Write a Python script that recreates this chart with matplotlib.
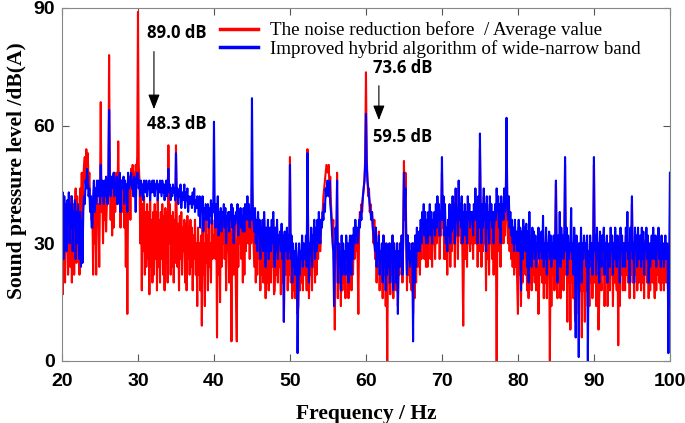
import matplotlib
matplotlib.use("Agg")
import matplotlib.pyplot as plt
import numpy as np

# frequency grid, 0.1 Hz steps from 20 to 100 Hz
freq = np.round(np.arange(20, 100.0001, 0.1), 1)

# noise reduction before / average value (red), one row per Hz
before = [
    38, 17, 30, 36, 20, 33, 28, 40, 22, 35,   # 20
    30, 24, 42, 20, 36, 40, 22, 38, 44, 25,
    42, 28, 38, 22, 44, 36, 48, 30, 46, 50,
    52, 46, 54, 50, 53, 44, 48, 40, 42, 36,
    38, 22, 42, 30, 40, 22, 44, 35, 40, 24,
    42, 66, 38, 44, 30, 42, 36, 46, 33, 40,   # 25
    40, 44, 78, 45, 36, 44, 32, 46, 34, 48,
    38, 44, 48, 40, 56, 42, 46, 34, 46, 40,
    38, 46, 34, 44, 24, 42, 12, 44, 38, 47,
    36, 49, 44, 50, 42, 48, 46, 50, 48, 52,
    89, 50, 46, 30, 44, 18, 40, 28, 42, 22,   # 30
    38, 24, 40, 26, 38, 17, 41, 24, 36, 20,
    38, 22, 40, 26, 38, 18, 41, 24, 36, 20,
    38, 26, 40, 22, 37, 18, 39, 25, 38, 20,
    55, 30, 40, 22, 37, 24, 38, 20, 36, 25,
    55, 36, 24, 35, 18, 37, 26, 38, 22, 34,   # 35
    28, 36, 20, 35, 18, 37, 26, 34, 22, 36,
    24, 34, 18, 32, 26, 36, 22, 30, 14, 34,
    22, 30, 18, 32, 9, 34, 22, 30, 14, 36,
    25, 32, 18, 34, 24, 30, 20, 36, 26, 32,
    30, 36, 26, 38, 6, 40, 22, 36, 15, 37,    # 40
    24, 36, 30, 38, 26, 37, 18, 35, 28, 36,
    20, 36, 30, 5, 32, 36, 22, 35, 30, 16,
    5, 38, 24, 36, 30, 37, 26, 35, 20, 37,
    22, 38, 28, 36, 40, 30, 38, 26, 36, 30,
    45, 38, 30, 24, 37, 20, 34, 22, 36, 26,   # 45
    34, 18, 32, 22, 34, 20, 36, 26, 16, 32,
    20, 34, 18, 30, 32, 20, 34, 24, 36, 17,
    18, 32, 22, 34, 20, 30, 24, 31, 17, 33,
    20, 30, 10, 31, 22, 28, 32, 18, 30, 22,
    52, 20, 30, 16, 28, 18, 26, 16, 28, 20,   # 50
    12, 14, 28, 18, 26, 20, 30, 18, 28, 22,
    22, 30, 18, 54, 30, 16, 28, 22, 32, 18,
    30, 24, 34, 20, 32, 22, 34, 26, 36, 28,
    28, 34, 36, 38, 42, 44, 46, 48, 50, 49,
    48, 50, 44, 47, 40, 36, 32, 36, 24, 8,    # 55
    30, 26, 48, 16, 28, 20, 26, 14, 30, 18,
    28, 20, 26, 16, 30, 22, 28, 16, 26, 30,
    26, 18, 30, 22, 32, 26, 34, 28, 32, 26,
    12, 34, 38, 36, 40, 38, 42, 44, 46, 52,
    73.6, 52, 46, 42, 44, 38, 40, 36, 38, 34, # 60
    30, 36, 26, 34, 20, 30, 24, 33, 18, 28,
    24, 28, 16, 32, 22, 30, 14, 28, 0, 26,
    20, 30, 17, 28, 22, 32, 16, 30, 20, 28,
    18, 30, 14, 26, 22, 30, 24, 32, 20, 34,
    51, 36, 48, 32, 18, 32, 22, 30, 20, 28,   # 65
    18, 30, 12, 28, 16, 32, 20, 32, 24, 30,
    30, 22, 34, 26, 36, 30, 38, 26, 36, 24,
    34, 24, 36, 30, 38, 26, 36, 24, 34, 30,
    36, 26, 38, 30, 40, 32, 38, 26, 36, 32,
    48, 34, 40, 26, 38, 26, 32, 22, 34, 28,   # 70
    38, 24, 36, 28, 40, 30, 38, 24, 42, 32,
    36, 26, 44, 32, 38, 30, 40, 26, 9, 30,
    38, 26, 36, 24, 40, 30, 38, 28, 36, 30,
    36, 26, 38, 30, 42, 30, 38, 24, 40, 28,
    54, 36, 24, 38, 28, 42, 30, 38, 18, 40,   # 75
    26, 36, 22, 40, 30, 38, 26, 36, 22, 34,
    38, 30, 0, 36, 40, 28, 38, 24, 40, 30,
    38, 30, 42, 32, 40, 57, 38, 30, 40, 28,
    36, 26, 34, 24, 32, 22, 34, 24, 30, 20,
    12, 34, 22, 32, 14, 30, 20, 34, 24, 32,   # 80
    22, 33, 18, 30, 16, 32, 20, 28, 18, 32,
    22, 30, 20, 30, 18, 28, 22, 12, 20, 30,
    22, 30, 20, 30, 16, 28, 20, 32, 16, 28,
    22, 30, 0, 30, 14, 28, 22, 30, 18, 28,
    45, 22, 16, 30, 20, 28, 16, 32, 22, 30,   # 85
    18, 28, 50, 22, 32, 10, 30, 20, 28, 8,
    30, 20, 28, 16, 32, 12, 10, 30, 20, 28,
    12, 28, 18, 32, 6, 28, 18, 30, 10, 28,
    18, 30, 14, 26, 14, 30, 20, 28, 16, 26,
    50, 20, 30, 14, 32, 20, 8, 16, 30, 22,    # 90
    18, 30, 22, 32, 14, 28, 20, 30, 14, 26,
    28, 18, 32, 22, 30, 14, 28, 20, 32, 22,
    18, 30, 4, 28, 14, 32, 22, 30, 18, 28,
    28, 18, 32, 22, 30, 20, 28, 16, 32, 22,
    40, 20, 28, 16, 32, 22, 30, 18, 32, 20,   # 95
    22, 30, 18, 32, 20, 31, 16, 28, 22, 32,
    20, 30, 16, 28, 18, 26, 30, 20, 32, 22,
    16, 30, 18, 28, 22, 32, 20, 28, 18, 30,
    20, 28, 18, 26, 30, 20, 28, 22, 14, 30,
    30,
]

# improved hybrid algorithm of wide-narrow band (blue), one row per Hz
improved = [
    32, 43, 26, 42, 34, 40, 28, 41, 35, 43,   # 20
    30, 40, 34, 42, 28, 38, 36, 41, 26, 38,
    30, 40, 34, 26, 38, 24, 36, 25, 38, 42,
    40, 46, 44, 49, 46, 42, 44, 38, 42, 34,
    34, 42, 46, 38, 44, 40, 46, 42, 46, 44,
    40, 50, 42, 46, 44, 40, 46, 42, 47, 44,   # 25
    40, 46, 64, 46, 42, 47, 44, 46, 48, 42,
    45, 44, 47, 40, 46, 43, 48, 38, 46, 44,
    44, 47, 40, 46, 43, 45, 38, 48, 44, 46,
    45, 48, 44, 46, 42, 47, 44, 38, 46, 48,
    48, 44, 46, 42, 46, 43, 45, 41, 46, 44,   # 30
    43, 46, 42, 45, 44, 46, 41, 45, 43, 46,
    43, 46, 42, 45, 44, 46, 41, 45, 43, 46,
    44, 42, 46, 43, 45, 41, 44, 46, 42, 45,
    49, 43, 45, 41, 44, 42, 45, 43, 44, 41,
    53, 42, 44, 40, 43, 42, 45, 39, 43, 41,   # 35
    42, 45, 39, 43, 41, 44, 38, 42, 40, 41,
    42, 39, 43, 40, 44, 38, 41, 39, 42, 40,
    37, 42, 34, 40, 38, 42, 33, 39, 36, 40,
    38, 36, 40, 34, 39, 37, 41, 35, 40, 38,
    61, 38, 34, 40, 36, 42, 32, 38, 35, 39,   # 40
    33, 38, 36, 40, 34, 39, 30, 37, 35, 38,
    33, 38, 36, 40, 34, 39, 30, 37, 35, 38,
    36, 40, 32, 38, 35, 39, 34, 37, 33, 39,
    33, 40, 36, 38, 42, 36, 40, 34, 38, 36,
    67, 40, 36, 33, 39, 30, 36, 28, 38, 32,   # 45
    36, 26, 34, 30, 36, 28, 38, 32, 24, 34,
    28, 36, 26, 32, 34, 28, 36, 30, 38, 26,
    24, 34, 28, 36, 26, 32, 30, 33, 28, 35,
    26, 32, 10, 33, 28, 30, 34, 26, 32, 28,
    50, 26, 32, 20, 30, 24, 28, 22, 30, 26,   # 50
    2, 18, 30, 22, 28, 26, 32, 24, 30, 28,
    26, 32, 24, 53, 32, 20, 30, 28, 34, 24,
    32, 30, 36, 26, 34, 28, 36, 30, 38, 32,
    30, 36, 34, 38, 36, 40, 38, 44, 42, 46,
    44, 42, 46, 40, 38, 34, 30, 28, 14, 26,   # 55
    34, 30, 46, 20, 30, 24, 28, 18, 32, 22,
    30, 24, 28, 22, 32, 26, 30, 20, 28, 32,
    28, 22, 32, 26, 34, 30, 36, 32, 34, 30,
    32, 36, 34, 38, 36, 40, 42, 44, 46, 50,
    63, 50, 46, 44, 42, 40, 38, 36, 38, 34,   # 60
    32, 30, 28, 34, 24, 30, 26, 32, 22, 28,
    26, 30, 20, 32, 24, 28, 18, 30, 22, 28,
    24, 30, 20, 28, 26, 32, 18, 30, 24, 28,
    20, 30, 12, 28, 24, 30, 26, 32, 22, 30,
    48, 40, 44, 30, 22, 32, 26, 30, 24, 28,   # 65
    26, 30, 5, 30, 20, 32, 24, 34, 28, 30,
    33, 28, 36, 30, 38, 34, 40, 32, 38, 30,
    36, 30, 38, 34, 40, 32, 38, 30, 36, 34,
    38, 32, 40, 34, 42, 36, 40, 32, 38, 36,
    52, 36, 42, 32, 40, 30, 34, 28, 36, 32,   # 70
    40, 30, 38, 33, 42, 34, 40, 30, 44, 36,
    38, 32, 46, 36, 40, 34, 42, 30, 38, 34,
    40, 32, 38, 30, 42, 36, 40, 34, 38, 36,
    38, 32, 40, 36, 44, 36, 40, 30, 42, 34,
    58, 38, 30, 40, 34, 44, 36, 40, 28, 42,   # 75
    34, 38, 30, 42, 36, 40, 34, 38, 30, 36,
    40, 36, 44, 38, 42, 34, 40, 30, 42, 36,
    40, 36, 44, 38, 42, 62, 40, 36, 42, 34,
    38, 32, 36, 30, 34, 28, 36, 30, 33, 28,
    30, 36, 28, 34, 18, 33, 26, 36, 30, 34,   # 80
    28, 35, 24, 33, 20, 38, 26, 30, 24, 34,
    28, 33, 26, 32, 24, 30, 28, 34, 26, 32,
    28, 33, 26, 37, 24, 30, 26, 34, 22, 30,
    28, 33, 26, 32, 24, 30, 28, 32, 26, 30,
    46, 28, 20, 32, 26, 38, 24, 34, 28, 32,   # 85
    26, 30, 52, 28, 34, 22, 32, 26, 30, 28,
    39, 26, 30, 22, 34, 28, 6, 32, 26, 30,
    1, 30, 24, 34, 20, 30, 26, 32, 28, 30,
    24, 32, 0, 28, 24, 32, 26, 30, 22, 28,
    52, 28, 32, 22, 34, 26, 30, 20, 33, 28,   # 90
    24, 32, 28, 34, 22, 30, 26, 32, 20, 28,
    30, 24, 34, 28, 32, 22, 30, 26, 34, 28,
    24, 32, 26, 30, 20, 34, 28, 32, 24, 30,
    30, 24, 34, 28, 38, 26, 30, 20, 34, 28,
    42, 26, 30, 20, 34, 28, 32, 24, 34, 26,   # 95
    28, 32, 24, 34, 26, 33, 22, 30, 28, 34,
    26, 32, 20, 30, 24, 28, 32, 26, 34, 28,
    26, 32, 24, 30, 28, 34, 26, 30, 24, 32,
    26, 30, 24, 28, 32, 26, 30, 28, 2, 24,
    48,
]

labels = ["The noise reduction before  / Average value",
          "Improved hybrid algorithm of wide-narrow band"]

fig = plt.figure(figsize=(6.85, 4.23), dpi=100)
ax = fig.add_axes([0.0905, 0.1466, 0.8875, 0.8345])

ax.plot(freq, before, color="#ff0000", lw=1.5, label=labels[0])
ax.plot(freq, improved, color="#0000ff", lw=1.5, label=labels[1])

ax.set_xlim(20, 100)
ax.set_ylim(0, 90)
ax.set_xticks(np.arange(20, 101, 10))
ax.set_yticks([0, 30, 60, 90])
ax.tick_params(direction="in", top=True, right=True, length=5, width=0.8,
               color="#555555", labelsize=14)
ax.tick_params(axis="x", pad=9)
ax.tick_params(axis="y", pad=5)
for lab in ax.get_xticklabels() + ax.get_yticklabels():
    lab.set_fontfamily("Liberation Sans")
    lab.set_fontweight("bold")
for sp in ax.spines.values():
    sp.set_color("#888888")
    sp.set_linewidth(0.8)

ax.set_xlabel("Frequency / Hz", family="Liberation Serif", weight="bold",
              fontsize=15.5, labelpad=10)
ax.set_ylabel("Sound pressure level /dB(A)", family="Liberation Serif",
              weight="bold", fontsize=15.5)
ax.yaxis.set_label_coords(-0.058, 0.538)

leg = ax.legend(loc="upper left", bbox_to_anchor=(0.232, 1.01), frameon=False,
                prop={"family": "Liberation Serif", "size": 13.7},
                handlelength=2.0, handletextpad=0.6, labelspacing=0.02)
for h in leg.get_lines():
    h.set_linewidth(2.5)

# peak annotations
txt = dict(family="Open Sans", weight="bold", fontsize=12, va="center")
ax.text(31.2, 83.6, "89.0 dB", **txt)
ax.text(31.2, 60.4, "48.3 dB", **txt)
ax.text(60.9, 74.7, "73.6 dB", **txt)
ax.text(60.9, 57.1, "59.5 dB", **txt)
arrow = dict(arrowstyle="-|>,head_length=0.9,head_width=0.35", color="black", lw=0.8)
ax.annotate("", xy=(32.1, 63.5), xytext=(32.1, 79.6), arrowprops=arrow)
ax.annotate("", xy=(61.7, 60.7), xytext=(61.7, 70.9), arrowprops=arrow)

fig.savefig("out.png", dpi=100)
